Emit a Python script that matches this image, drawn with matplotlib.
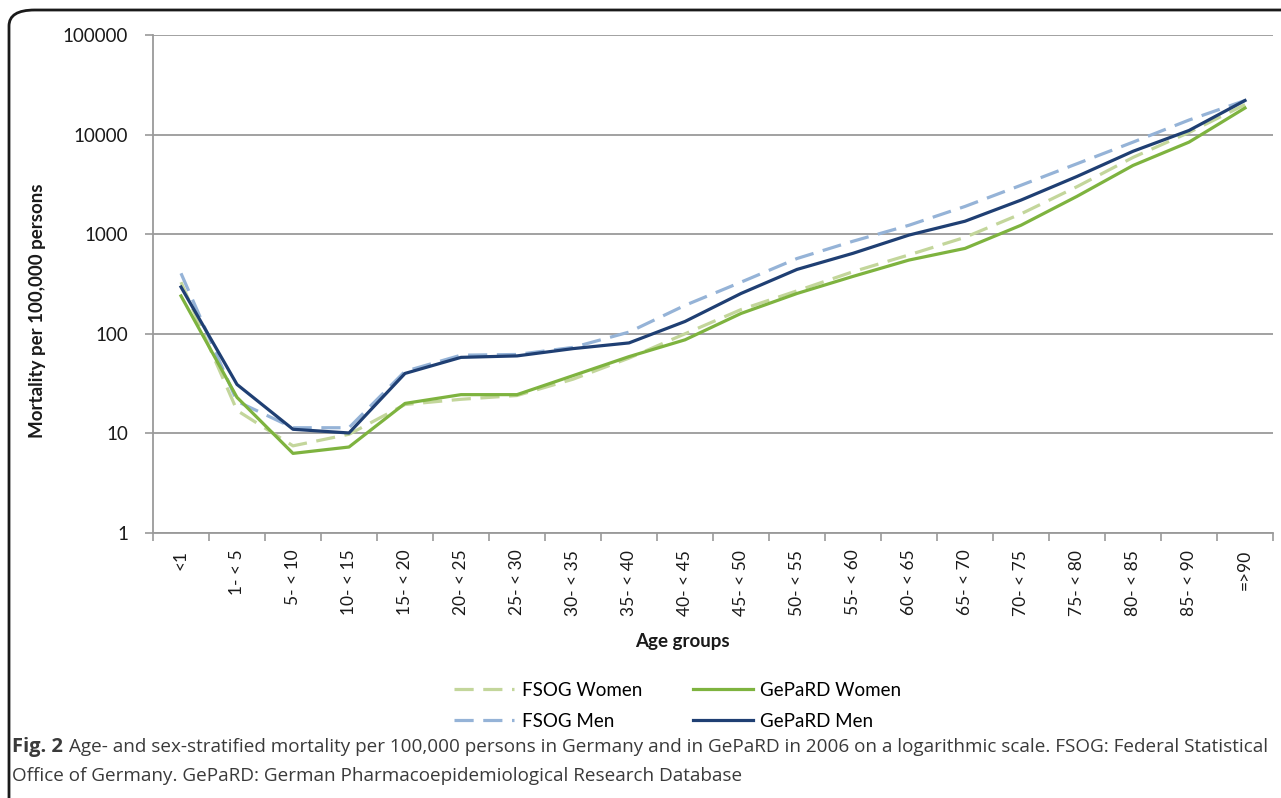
import numpy as np
import matplotlib
matplotlib.use("Agg")
import matplotlib.pyplot as plt
from matplotlib.patches import FancyBboxPatch
from matplotlib.lines import Line2D

# age groups and mortality per 100,000 persons
age_groups = ["<1", "1- < 5", "5- < 10", "10- < 15", "15- < 20", "20- < 25",
              "25- < 30", "30- < 35", "35- < 40", "40- < 45", "45- < 50",
              "50- < 55", "55- < 60", "60- < 65", "65- < 70", "70- < 75",
              "75- < 80", "80- < 85", "85- < 90", "=>90"]

fsog_women = [330, 17, 7.5, 9.8, 19.5, 22, 24, 35, 57, 100, 175, 270, 420,
              620, 930, 1600, 3000, 5900, 10500, 20000]
gepard_women = [240, 23, 6.3, 7.3, 20, 24.5, 24.5, 38, 59, 87, 160, 254, 377,
                550, 720, 1230, 2400, 4900, 8400, 18500]
fsog_men = [405, 21, 11.4, 11.4, 42, 61, 62, 73, 104, 193, 330, 570, 850,
            1230, 1900, 3100, 5100, 8400, 14000, 22000]
gepard_men = [295, 31, 11, 10.1, 40, 58, 60, 71, 81, 133, 254, 443, 643,
              980, 1350, 2200, 3800, 6800, 11000, 22000]

c_fw = "#c3d69b"
c_gw = "#7eb33f"
c_fm = "#95b3d7"
c_gm = "#1f3f73"

plt.rcParams["font.family"] = ["Lato", "DejaVu Sans"]

fig = plt.figure(figsize=(12.81, 7.98), dpi=100)
W, H = 1281, 798
ax = fig.add_axes([153 / W, 1 - 533 / H, (1273 - 153) / W, (533 - 35) / H])

x = np.arange(len(age_groups))
dash = (6, 3)
ax.plot(x, fsog_women, color=c_fw, lw=2.3, dashes=dash, zorder=3)
ax.plot(x, fsog_men, color=c_fm, lw=2.3, dashes=dash, zorder=3)
ax.plot(x, gepard_women, color=c_gw, lw=2.3, zorder=4)
ax.plot(x, gepard_men, color=c_gm, lw=2.3, zorder=5)

ax.set_yscale("log")
ax.set_ylim(1, 100000)
ax.set_xlim(-0.5, len(age_groups) - 0.5)
yt = [1, 10, 100, 1000, 10000, 100000]
ax.set_yticks(yt)
ax.set_yticklabels([str(v) for v in yt], fontsize=13.5, color="#1a1a1a")
ax.yaxis.set_minor_locator(matplotlib.ticker.NullLocator())
ax.grid(axis="y", color="#9a9a9a", lw=1.3)
ax.set_axisbelow(True)

ax.set_xticks(x)
ax.set_xticklabels(age_groups, rotation=90, fontsize=12.5, color="#1a1a1a",
                   va="top", ha="center")
ax.set_xticks(np.arange(len(age_groups) + 1) - 0.5, minor=True)
ax.tick_params(axis="x", which="major", length=0, pad=12)
ax.tick_params(axis="x", which="minor", length=6, color="#9a9a9a", width=1.2)
ax.tick_params(axis="y", length=6, color="#9a9a9a", width=1.2, pad=12)

for s in ["top", "right"]:
    ax.spines[s].set_visible(False)
for s in ["left", "bottom"]:
    ax.spines[s].set_color("#9a9a9a")
    ax.spines[s].set_linewidth(1.3)

fig.text(38 / W, 1 - 311 / H, "Mortality per 100,000 persons", rotation=90,
         ha="center", va="center", fontsize=13.5, fontweight="bold", color="#1a1a1a")
fig.text(682 / W, 1 - 641 / H, "Age groups", ha="center", va="center",
         fontsize=13.5, fontweight="bold", color="#1a1a1a")

handles = [Line2D([], [], color=c_fw, lw=2.3, dashes=dash),
           Line2D([], [], color=c_fm, lw=2.3, dashes=dash),
           Line2D([], [], color=c_gw, lw=2.3),
           Line2D([], [], color=c_gm, lw=2.3)]
labels = ["FSOG Women", "FSOG Men", "GePaRD Women", "GePaRD Men"]
fig.legend(handles, labels, ncol=2, loc="center", bbox_to_anchor=(678 / W, 1 - 706 / H),
           frameon=False, fontsize=13.5, handlelength=3.2, columnspacing=2.7,
           labelspacing=0.75, handletextpad=0.4)

# rounded frame around the figure
frame = FancyBboxPatch((9 / W, -0.2), 1.3, 1.2 - 10 / H,
                       boxstyle="round,pad=0,rounding_size=0.02",
                       transform=fig.transFigure, fill=False, ec="#1a1a1a", lw=2)
fig.patches.append(frame)

# caption
cap_col = "#3a3a3a"
cap_font = ["Open Sans", "DejaVu Sans"]
t = fig.text(12 / W, 1 - 747 / H, "Fig. 2", ha="left", va="center", fontsize=14.5,
             fontweight="bold", color=cap_col, family=cap_font)
fig.canvas.draw()
bb = t.get_window_extent()
fig.text((bb.x1 + 6) / W, 1 - 747 / H,
         "Age- and sex-stratified mortality per 100,000 persons in Germany and in GePaRD in 2006 "
         "on a logarithmic scale. FSOG: Federal Statistical",
         ha="left", va="center", fontsize=13.6, color=cap_col, family=cap_font)
fig.text(12 / W, 1 - 776 / H,
         "Office of Germany. GePaRD: German Pharmacoepidemiological Research Database",
         ha="left", va="center", fontsize=13.6, color=cap_col, family=cap_font)

fig.savefig("out.png", dpi=100)
